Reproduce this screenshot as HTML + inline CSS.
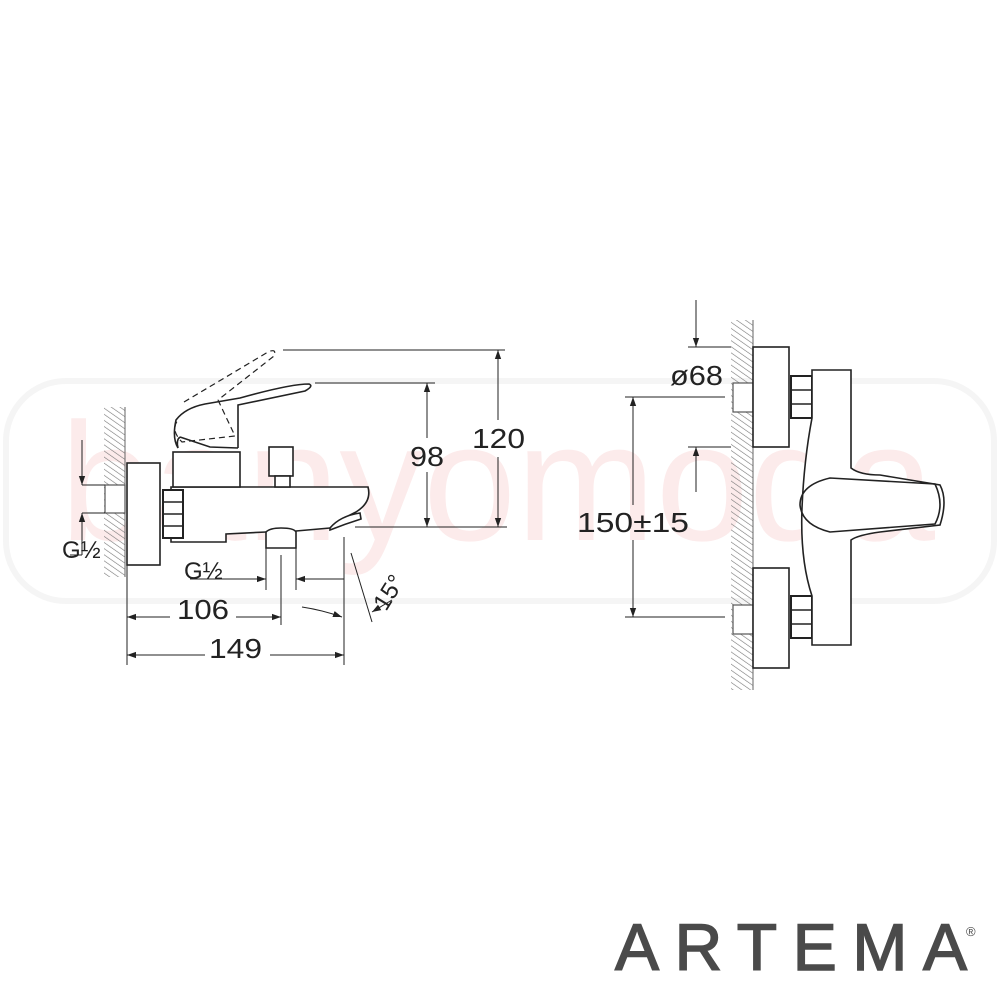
<!DOCTYPE html>
<html><head><meta charset="utf-8"><style>
html,body{margin:0;padding:0;background:#fff}
svg{display:block}
text{font-family:"Liberation Sans",sans-serif}
</style></head><body>
<svg width="1000" height="1000" viewBox="0 0 1000 1000" xmlns="http://www.w3.org/2000/svg">
<defs>
<pattern id="h" width="5" height="5" patternUnits="userSpaceOnUse" patternTransform="rotate(-55)">
<line x1="0" y1="0" x2="0" y2="5" stroke="#777" stroke-width="1.2"/>
</pattern>
<marker id="a" viewBox="0 0 10 10" refX="10" refY="5" markerWidth="9" markerHeight="13" markerUnits="userSpaceOnUse" orient="auto-start-reverse">
<path d="M0,1.5 L10,5 L0,8.5 Z" fill="#222"/>
</marker>
</defs>

<!-- watermark -->
<rect x="6" y="381" width="988" height="220" rx="60" fill="none" stroke="#f5f5f5" stroke-width="6"/>
<text x="60" y="540" font-size="168" fill="#fcebeb" textLength="875" lengthAdjust="spacingAndGlyphs">banyomoda</text>

<g fill="none" stroke="#222" stroke-width="1.6">
<!-- LEFT VIEW -->
<rect x="104" y="407" width="21" height="170" fill="url(#h)" stroke="none"/>
<line x1="125" y1="407" x2="125" y2="577" stroke="#666" stroke-width="1"/>
<rect x="127" y="463" width="33" height="102" fill="#fff"/>
<rect x="105" y="485" width="20" height="28" fill="#fff" stroke="#555" stroke-width="1.2"/>
<!-- body -->
<path d="M171,487 L368,487 Q372,502 356,512 L340,520 L330,528 L296,531 L266,532 L226,534 L226,542 L171,542 Z" fill="#fff"/>
<path d="M330,528 Q340,516 360,513 L361,519 Q345,524 330,530 Z" fill="#fff"/>
<path d="M266,532 Q270,528 281,528 Q294,528 296,532 L296,548 L266,548 Z" fill="#fff"/>
<!-- nut -->
<rect x="163" y="490" width="20" height="48" fill="#fff" stroke-width="2"/>
<line x1="163" y1="502" x2="183" y2="502"/><line x1="163" y1="514" x2="183" y2="514"/><line x1="163" y1="526" x2="183" y2="526"/>
<rect x="173" y="452" width="67" height="35" fill="#fff"/>
<rect x="269" y="447" width="24" height="29" fill="#fff"/>
<rect x="275" y="476" width="15" height="11" fill="#fff"/>
<!-- lever -->
<path d="M238,448 L238,405 L305,391 Q314,386 309,384 Q290,384 240,398 L205,404 Q185,408 176,420 Q172,438 178,448" />
<path d="M180,437 L210,447 L238,448 M180,437 Q176,440 178,448"/>
<path d="M184,402 L268,352 Q277,348 274,356 L218,400" stroke-dasharray="6,4" stroke-width="1.2"/>
<path d="M218,400 L235,436 L182,442 Q170,430 178,420" stroke-dasharray="6,4" stroke-width="1.2"/>

<!-- dims left -->
<g stroke-width="1">
<line x1="82" y1="440" x2="82" y2="485" marker-end="url(#a)"/>
<line x1="82" y1="555" x2="82" y2="513" marker-end="url(#a)"/>
<line x1="82" y1="485" x2="105" y2="485"/><line x1="82" y1="513" x2="105" y2="513"/>
<line x1="70" y1="555" x2="82" y2="555"/>
<line x1="283" y1="350" x2="505" y2="350"/>
<line x1="315" y1="383" x2="435" y2="383"/>
<line x1="355" y1="527" x2="507" y2="527"/>
<line x1="427" y1="438" x2="427" y2="383" marker-end="url(#a)"/>
<line x1="427" y1="472" x2="427" y2="527" marker-end="url(#a)"/>
<line x1="498" y1="420" x2="498" y2="350" marker-end="url(#a)"/>
<line x1="498" y1="457" x2="498" y2="527" marker-end="url(#a)"/>
<line x1="127" y1="565" x2="127" y2="665"/>
<line x1="281" y1="555" x2="281" y2="625"/>
<line x1="344" y1="537" x2="344" y2="665"/>
<line x1="266" y1="548" x2="266" y2="590"/>
<line x1="296" y1="548" x2="296" y2="590"/>
<line x1="190" y1="579" x2="266" y2="579" marker-end="url(#a)"/>
<line x1="344" y1="579" x2="296" y2="579" marker-end="url(#a)"/>
<line x1="170" y1="617" x2="127" y2="617" marker-end="url(#a)"/>
<line x1="236" y1="617" x2="281" y2="617" marker-end="url(#a)"/>
<line x1="205" y1="655" x2="127" y2="655" marker-end="url(#a)"/>
<line x1="270" y1="655" x2="344" y2="655" marker-end="url(#a)"/>
<line x1="351" y1="553" x2="372" y2="622"/>
<path d="M302,607 Q322,610 342,617" marker-end="url(#a)"/>
<line x1="392" y1="600" x2="372" y2="612" marker-end="url(#a)"/>
</g>

<!-- RIGHT VIEW -->
<rect x="731" y="320" width="22" height="370" fill="url(#h)" stroke="none"/>
<line x1="753" y1="320" x2="753" y2="690" stroke="#666" stroke-width="1"/>
<rect x="733" y="383" width="20" height="29" fill="#fff" stroke="#555" stroke-width="1.2"/>
<rect x="733" y="605" width="20" height="29" fill="#fff" stroke="#555" stroke-width="1.2"/>
<rect x="753" y="347" width="36" height="100" fill="#fff"/>
<rect x="753" y="568" width="36" height="100" fill="#fff"/>
<rect x="791" y="376" width="21" height="42" fill="#fff" stroke-width="2"/>
<line x1="791" y1="390" x2="812" y2="390"/><line x1="791" y1="404" x2="812" y2="404"/>
<rect x="791" y="596" width="21" height="42" fill="#fff" stroke-width="2"/>
<line x1="791" y1="610" x2="812" y2="610"/><line x1="791" y1="624" x2="812" y2="624"/>
<path d="M812,370 L851,370 L851,468 Q860,475 880,475 L940,485 Q948,500 940,525 L880,532 Q858,535 851,540 L851,645 L812,645 L812,596 Q800,560 802,508 Q804,460 812,418 Z" fill="#fff"/>
<path d="M830,478 Q800,485 800,505 Q802,525 830,532 L935,524 Q945,505 935,484 Z"/>

<g stroke-width="1">
<line x1="696" y1="300" x2="696" y2="347" marker-end="url(#a)"/>
<line x1="696" y1="492" x2="696" y2="447" marker-end="url(#a)"/>
<line x1="688" y1="347" x2="731" y2="347"/>
<line x1="688" y1="447" x2="731" y2="447"/>
<line x1="625" y1="397" x2="725" y2="397"/>
<line x1="625" y1="617" x2="725" y2="617"/>
<line x1="633" y1="505" x2="633" y2="397" marker-end="url(#a)"/>
<line x1="633" y1="540" x2="633" y2="617" marker-end="url(#a)"/>
</g>
</g>

<g fill="#222" font-size="28">
<text x="410" y="466" textLength="34" lengthAdjust="spacingAndGlyphs">98</text>
<text x="472" y="448" textLength="53" lengthAdjust="spacingAndGlyphs">120</text>
<text x="177" y="619" textLength="52" lengthAdjust="spacingAndGlyphs">106</text>
<text x="209" y="658" textLength="53" lengthAdjust="spacingAndGlyphs">149</text>
<text x="577" y="532" textLength="112" lengthAdjust="spacingAndGlyphs">150±15</text>
<text x="670" y="385" textLength="53" lengthAdjust="spacingAndGlyphs">ø68</text>
<text x="62" y="558" font-size="24">G½</text>
<text x="184" y="579" font-size="24">G½</text>
<text x="0" y="0" font-size="24" transform="translate(386,612) rotate(-58)">15°</text>
</g>

<text x="615" y="970" font-size="66" fill="#4a4a4a" textLength="352" lengthAdjust="spacing" stroke="#4a4a4a" stroke-width="1.5">ARTEMA</text>
<text x="966" y="936" font-size="13" fill="#4a4a4a">®</text>
</svg>
</body></html>
